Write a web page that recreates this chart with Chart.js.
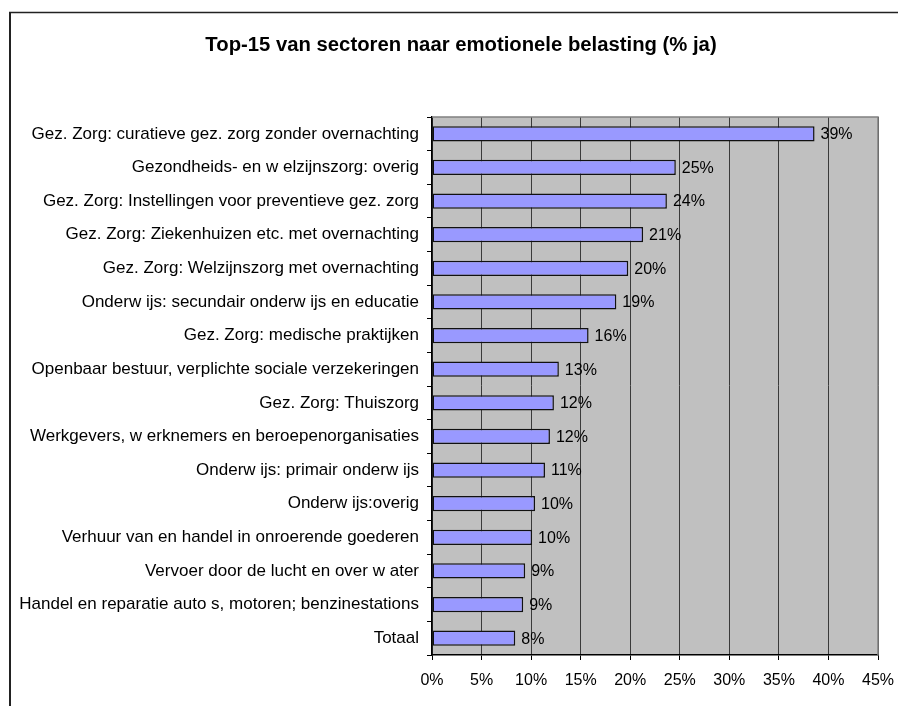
<!DOCTYPE html>
<html>
<head>
<meta charset="utf-8">
<script src="https://cdn.jsdelivr.net/npm/chart.js@4/dist/chart.umd.min.js"></script>
<style>
  html, body { margin: 0; padding: 0; background: #ffffff; }
  #wrap { width: 898px; height: 706px; }
</style>
</head>
<body>
<div id="wrap"><canvas id="c" width="898" height="706"></canvas></div>
<script>
const chartTitle = "Top-15 van sectoren naar emotionele belasting (% ja)";
const categories = [
  "Gez. Zorg: curatieve gez. zorg zonder overnachting",
  "Gezondheids- en w elzijnszorg: overig",
  "Gez. Zorg: Instellingen voor preventieve gez. zorg",
  "Gez. Zorg: Ziekenhuizen etc. met overnachting",
  "Gez. Zorg: Welzijnszorg met overnachting",
  "Onderw ijs: secundair onderw ijs en educatie",
  "Gez. Zorg: medische praktijken",
  "Openbaar bestuur, verplichte sociale verzekeringen",
  "Gez. Zorg: Thuiszorg",
  "Werkgevers, w erknemers en beroepenorganisaties",
  "Onderw ijs: primair onderw ijs",
  "Onderw ijs:overig",
  "Verhuur van en handel in onroerende goederen",
  "Vervoer door de lucht en over w ater",
  "Handel en reparatie auto s, motoren; benzinestations",
  "Totaal"
];
const percentJa = [38.6, 24.6, 23.7, 21.3, 19.8, 18.6, 15.8, 12.8, 12.3, 11.9, 11.4, 10.4, 10.1, 9.4, 9.2, 8.4];
const xTickValues = [0, 5, 10, 15, 20, 25, 30, 35, 40, 45];

const FONT = "'Liberation Sans', Arial, sans-serif";

const decorPlugin = {
  id: 'decor',
  beforeDraw(chart) {
    const ctx = chart.ctx;
    const a = chart.chartArea;
    ctx.save();
    ctx.fillStyle = '#ffffff';
    ctx.fillRect(0, 0, chart.width, chart.height);
    // outer frame (left and top)
    ctx.strokeStyle = '#222222';
    ctx.lineWidth = 2;
    ctx.beginPath();
    ctx.moveTo(10, chart.height);
    ctx.lineTo(10, 12.5);
    ctx.stroke();
    ctx.lineWidth = 1.5;
    ctx.beginPath();
    ctx.moveTo(9, 12.5);
    ctx.lineTo(chart.width, 12.5);
    ctx.stroke();
    // title
    ctx.fillStyle = '#000000';
    ctx.font = "bold 20.3px " + FONT;
    ctx.textAlign = 'center';
    ctx.textBaseline = 'alphabetic';
    ctx.fillText(chartTitle, 461, 51);
    // plot background
    ctx.fillStyle = '#C0C0C0';
    ctx.fillRect(a.left, a.top, a.right - a.left, a.bottom - a.top);
    ctx.restore();
  },
  afterDraw(chart) {
    const ctx = chart.ctx;
    const a = chart.chartArea;
    ctx.save();
    ctx.strokeStyle = '#808080';
    ctx.lineWidth = 1.5;
    ctx.beginPath();
    ctx.moveTo(a.left, a.top);
    ctx.lineTo(a.right, a.top);
    ctx.lineTo(a.right, a.bottom);
    ctx.stroke();
    ctx.restore();
  }
};

const valueLabelPlugin = {
  id: 'valueLabels',
  afterDatasetsDraw(chart) {
    const ctx = chart.ctx;
    const meta = chart.getDatasetMeta(0);
    ctx.save();
    ctx.fillStyle = '#000000';
    ctx.font = "16px " + FONT;
    ctx.textAlign = 'left';
    ctx.textBaseline = 'middle';
    meta.data.forEach((bar, i) => {
      const v = chart.data.datasets[0].data[i];
      ctx.fillText(Math.round(v) + '%', bar.x + 6, bar.y + 1);
    });
    ctx.restore();
  }
};

new Chart(document.getElementById('c'), {
  type: 'bar',
  data: {
    labels: categories,
    datasets: [{
      data: percentJa,
      backgroundColor: '#9999FF',
      borderColor: '#111111',
      borderWidth: 1.5,
      borderSkipped: false,
      categoryPercentage: 1,
      barPercentage: 0.45
    }]
  },
  options: {
    indexAxis: 'y',
    responsive: false,
    animation: false,
    devicePixelRatio: 1,
    layout: { padding: { left: 0, right: 20, top: 117, bottom: 0 } },
    plugins: {
      legend: { display: false },
      title: { display: false },
      tooltip: { enabled: false }
    },
    scales: {
      x: {
        type: 'linear',
        min: 0,
        max: 45,
        afterBuildTicks(scale) {
          scale.ticks = xTickValues.map(v => ({ value: v }));
        },
        afterFit(scale) {
          scale.height = 51;
          scale.paddingLeft = 0;
          scale.paddingRight = 0;
        },
        grid: {
          color: '#3a3a3a',
          lineWidth: 1,
          tickColor: '#000000',
          tickLength: 5,
          drawTicks: true
        },
        border: { display: true, color: '#000000', width: 1.5 },
        ticks: {
          color: '#000000',
          font: { family: FONT, size: 16 },
          padding: 11,
          maxRotation: 0,
          autoSkip: false,
          callback: v => v + '%'
        }
      },
      y: {
        afterFit(scale) {
          scale.width = 432;
          scale.paddingTop = 0;
          scale.paddingBottom = 0;
        },
        grid: {
          drawOnChartArea: false,
          offset: true,
          color: '#000000',
          tickLength: 5
        },
        border: { display: true, color: '#000000', width: 1.5 },
        ticks: {
          color: '#000000',
          font: { family: FONT, size: 17 },
          padding: 8,
          autoSkip: false
        }
      }
    }
  },
  plugins: [decorPlugin, valueLabelPlugin]
});
</script>
</body>
</html>
